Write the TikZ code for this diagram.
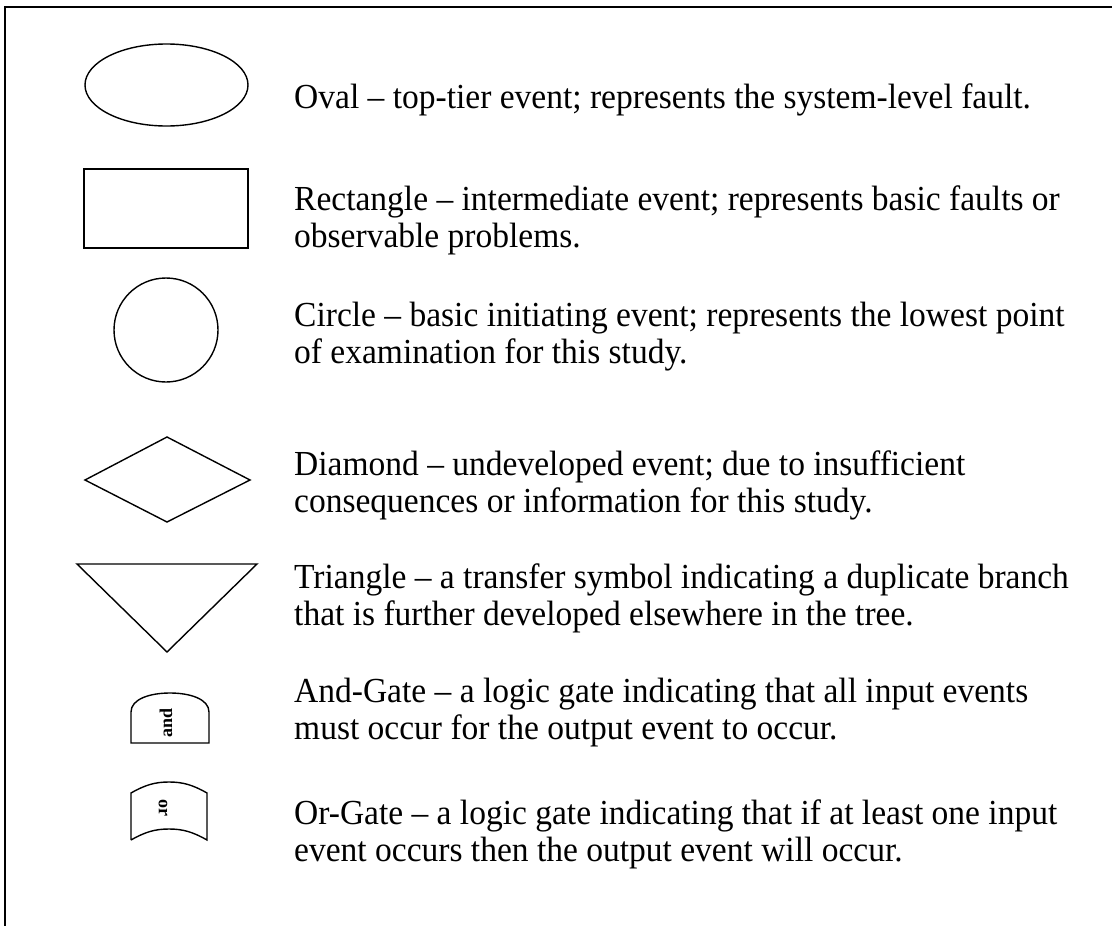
\documentclass[tikz,border=0pt]{standalone}
\usepackage{fontspec}
\setmainfont{Liberation Serif}
\usetikzlibrary{shapes.geometric}
\newcommand{\tallline}[1]{\scalebox{1}[1.05]{#1}}
\begin{document}
\begin{tikzpicture}[x=1pt,y=-1pt,
  shapeline/.style={draw=black,line width=1.4pt},
  desc/.style={anchor=base west,inner sep=0pt,font=\fontsize{33.5}{38}\selectfont},
  gatelabel/.style={inner sep=0pt,font=\fontsize{18}{18}\selectfont\bfseries}]
\useasboundingbox (0,0) rectangle (1112,926);
% outer frame (open at right and bottom)
\draw[line width=2pt] (5,926) -- (5,7) -- (1112,7);

% symbols
\node[shapeline,ellipse,minimum width=163pt,minimum height=82pt,inner sep=0pt] (oval) at (166.5,85) {};
\node[shapeline,rectangle,minimum width=164pt,minimum height=79pt,inner sep=0pt] (rect) at (166,208.5) {};
\node[shapeline,circle,minimum size=104pt,inner sep=0pt] (circ) at (166,330) {};
\draw[shapeline,line join=miter] (85,480) -- (167,437) -- (250,480) -- (167,522) -- cycle;
\draw[shapeline,line join=miter] (77,564) -- (257,564) -- (167,652) -- cycle;

% and-gate
\draw[shapeline] (131,743) -- (131,712)
  .. controls (131,699) and (150,693) .. (170,693)
  .. controls (190,693) and (209,699) .. (209,712) -- (209,743) -- cycle;
\node[gatelabel,rotate=90] (andtxt) at (166,723) {and};

% or-gate
\draw[shapeline] (131,840) -- (131,793)
  .. controls (145,785) and (155,782) .. (169,782)
  .. controls (183,782) and (193,785) .. (207,793) -- (207,840)
  .. controls (193,832) and (183,829) .. (169,829)
  .. controls (155,829) and (145,832) .. (131,840);
\node[gatelabel,rotate=-90] (ortxt) at (163,808) {or};

% descriptions
\node[desc] (t1a) at (294,108) {\tallline{Oval – top-tier event; represents the system-level fault.}};
\node[desc] (t2a) at (294,210) {\tallline{Rectangle – intermediate event; represents basic faults or}};
\node[desc] (t2b) at (294,247) {\tallline{observable problems.}};
\node[desc] (t3a) at (294,326) {\tallline{Circle – basic initiating event; represents the lowest point}};
\node[desc] (t3b) at (294,363) {\tallline{of examination for this study.}};
\node[desc] (t4a) at (294,475) {\tallline{Diamond – undeveloped event; due to insufficient}};
\node[desc] (t4b) at (294,512) {\tallline{consequences or information for this study.}};
\node[desc] (t5a) at (294,588) {\tallline{Triangle – a transfer symbol indicating a duplicate branch}};
\node[desc] (t5b) at (294,625) {\tallline{that is further developed elsewhere in the tree.}};
\node[desc] (t6a) at (294,702) {\tallline{And-Gate – a logic gate indicating that all input events}};
\node[desc] (t6b) at (294,739) {\tallline{must occur for the output event to occur.}};
\node[desc] (t7a) at (294,824) {\tallline{Or-Gate – a logic gate indicating that if at least one input}};
\node[desc] (t7b) at (294,861) {\tallline{event occurs then the output event will occur.}};
\end{tikzpicture}
\end{document}
